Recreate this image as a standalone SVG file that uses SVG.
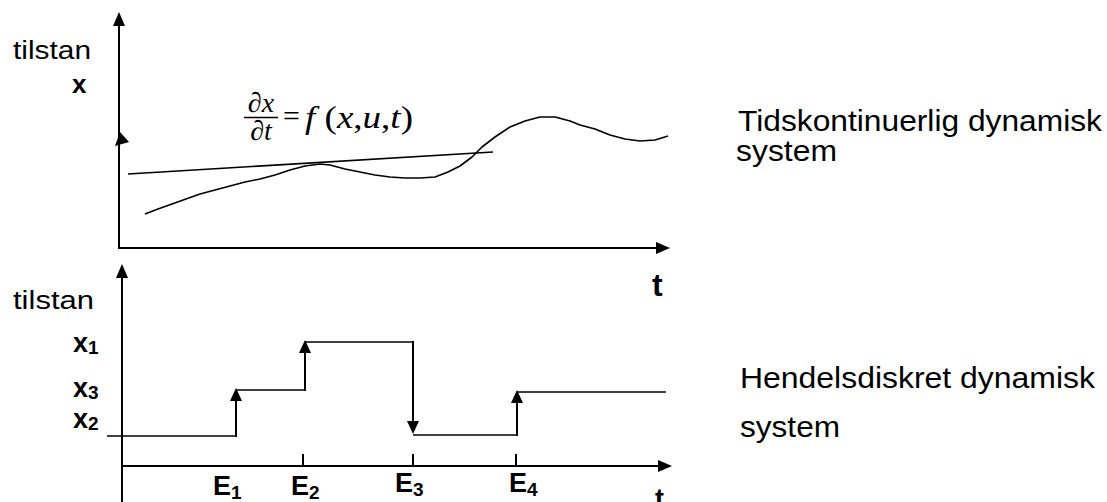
<svg xmlns="http://www.w3.org/2000/svg" width="1107" height="502" viewBox="0 0 1107 502">
<style>
.ax{stroke:#000;stroke-width:2;fill:none}
.ln{stroke:#000;stroke-width:1.6;fill:none}
.ah{fill:#000;stroke:none}
.sans{font-family:"Liberation Sans",Arial,sans-serif;fill:#000}
.b{font-weight:bold}
.tm{font-family:"Liberation Serif","Times New Roman",serif;fill:#000}
.it{font-style:italic}
</style>
<rect width="1107" height="502" fill="#fff"/>
<g id="connectors">
  <g id="top-axes">
    <line class="ax" x1="119" y1="249" x2="119" y2="24"/>
    <polygon class="ah" points="119,12 113,26 125,26"/>
    <polygon class="ah" points="120,132 129,142 115,146"/>
    <line class="ax" x1="118" y1="248" x2="658" y2="248"/>
    <polygon class="ah" points="670,248 656,242 656,254"/>
  </g>
  <g id="top-curves">
    <line class="ln" x1="128" y1="174" x2="493" y2="152"/>
    <polyline class="ln" stroke-linejoin="round" points="145,214 158,209 172,204 186,199 200,194 215,190 230,186 245,182 260,179 275,175 290,170 305,166 320,164 330,165 345,169 360,172 375,175 390,177 405,178 420,178 435,177 448,172 460,166 472,157 482,147 495,137 510,127 525,121 540,117 555,117 570,121 580,125 595,129 610,135 625,139 640,141 655,140 668,136"/>
  </g>
  <g id="bottom-axes">
    <line class="ax" x1="122" y1="502" x2="122" y2="276"/>
    <polygon class="ah" points="122,264 116,278 128,278"/>
    <line class="ax" x1="121" y1="466" x2="660" y2="466"/>
    <polygon class="ah" points="672,466 658,460 658,472"/>
    <line class="ax" x1="303" y1="454" x2="303" y2="466"/>
    <line class="ax" x1="413" y1="454" x2="413" y2="466"/>
    <line class="ax" x1="516" y1="454" x2="516" y2="466"/>
  </g>
  <g id="steps">
    <polyline class="ln" points="107,436 236,436"/>
    <line class="ax" x1="236" y1="437" x2="236" y2="398"/>
    <polygon class="ah" points="236,388 230,401 242,401"/>
    <polyline class="ln" points="236,390 305,390 305,352"/>
    <line class="ax" x1="305" y1="391" x2="305" y2="350"/>
    <polygon class="ah" points="305,340 299,353 311,353"/>
    <polyline class="ln" points="305,342 413,342"/>
    <line class="ax" x1="413" y1="341" x2="413" y2="424"/>
    <polygon class="ah" points="413,434 407,421 419,421"/>
    <polyline class="ln" points="413,435 517,435"/>
    <line class="ax" x1="517" y1="436" x2="517" y2="400"/>
    <polygon class="ah" points="517,390 511,403 523,403"/>
    <polyline class="ln" points="517,392 666,392"/>
  </g>
</g>
<g id="top-labels">
  <text class="sans" x="13" y="59" font-size="26" textLength="78" lengthAdjust="spacingAndGlyphs">tilstan</text>
  <text class="sans b" x="72" y="93" font-size="26">x</text>
  <text class="sans b" x="652" y="296" font-size="32">t</text>
</g>
<g id="formula">
  <text class="tm it" x="261" y="112" font-size="28" text-anchor="middle">∂x</text>
  <line x1="244" y1="117.5" x2="278" y2="117.5" stroke="#000" stroke-width="1.5"/>
  <text class="tm it" x="261" y="140" font-size="28" text-anchor="middle">∂t</text>
  <text class="tm" x="283" y="126" font-size="30">=</text>
  <text class="tm" x="305" y="128" font-size="31" textLength="108" lengthAdjust="spacingAndGlyphs"><tspan class="it">f</tspan> (<tspan class="it">x</tspan>,<tspan class="it">u</tspan>,<tspan class="it">t</tspan>)</text>
</g>
<g id="continuous-label">
  <text class="sans" x="738" y="131" font-size="30" textLength="364" lengthAdjust="spacingAndGlyphs">Tidskontinuerlig dynamisk</text>
  <text class="sans" x="736" y="161" font-size="29" textLength="101" lengthAdjust="spacingAndGlyphs">system</text>
</g>
<g id="bottom-labels">
  <text class="sans" x="13" y="309" font-size="26" textLength="81" lengthAdjust="spacingAndGlyphs">tilstan</text>
  <text class="sans b" x="73" y="352" font-size="27">x<tspan font-size="19" dy="2">1</tspan></text>
  <text class="sans b" x="73" y="397" font-size="27">x<tspan font-size="19" dy="2">3</tspan></text>
  <text class="sans b" x="73" y="428" font-size="27">x<tspan font-size="19" dy="2">2</tspan></text>
  <text class="sans b" x="213" y="495" font-size="27">E<tspan font-size="19" dy="4">1</tspan></text>
  <text class="sans b" x="291" y="495" font-size="27">E<tspan font-size="19" dy="4">2</tspan></text>
  <text class="sans b" x="395" y="492" font-size="27">E<tspan font-size="19" dy="4">3</tspan></text>
  <text class="sans b" x="509" y="492" font-size="27">E<tspan font-size="19" dy="4">4</tspan></text>
  <text class="sans b" x="655" y="508" font-size="27">t</text>
</g>
<g id="discrete-label">
  <text class="sans" x="740" y="388" font-size="29" textLength="355" lengthAdjust="spacingAndGlyphs">Hendelsdiskret dynamisk</text>
  <text class="sans" x="740" y="437" font-size="29" textLength="100" lengthAdjust="spacingAndGlyphs">system</text>
</g>
</svg>
